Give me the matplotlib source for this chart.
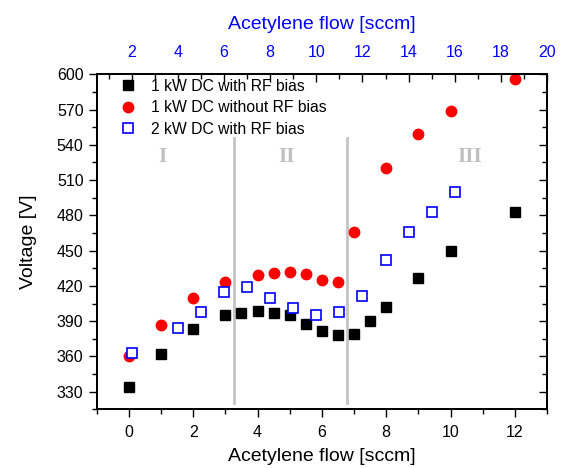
import matplotlib
matplotlib.use("Agg")
import matplotlib.pyplot as plt
from matplotlib.ticker import MultipleLocator

plt.rcParams['font.family'] = ['Liberation Sans', 'DejaVu Sans']

# 1 kW DC with RF bias (bottom axis)
x_black = [0, 1, 2, 3, 3.5, 4, 4.5, 5, 5.5, 6, 6.5, 7, 7.5, 8, 9, 10, 12]
y_black = [334, 362, 383, 395, 397, 399, 397, 395, 388, 382, 378, 379, 390, 402, 427, 450, 483]

# 1 kW DC without RF bias (bottom axis)
x_red = [0, 1, 2, 3, 4, 4.5, 5, 5.5, 6, 6.5, 7, 8, 9, 10, 12]
y_red = [360, 387, 410, 423, 429, 431, 432, 430, 425, 423, 466, 520, 549, 569, 596]

# 2 kW DC with RF bias (top axis)
x_blue = [2, 4, 5, 6, 7, 8, 9, 10, 11, 12, 13, 14, 15, 16]
y_blue = [363, 384, 398, 415, 419, 410, 401, 395, 398, 411, 442, 466, 483, 500]

region_bounds = [3.27, 6.78]
region_labels = ["I", "II", "III"]
region_label_x = [1.05, 4.9, 10.6]

fig = plt.figure(figsize=(5.63, 4.68), dpi=100)
ax = fig.add_axes([0.1718, 0.1254, 0.7998, 0.7158])

for xb in region_bounds:
    ax.plot([xb, xb], [320, 546], color='#c4c4c4', lw=2, zorder=1)
for lab, lx in zip(region_labels, region_label_x):
    ax.text(lx, 530, lab, family=['Liberation Serif', 'DejaVu Serif'], fontweight='bold',
            fontsize=15.5, color='#c0c0c0', ha='center', va='center')

hb, = ax.plot(x_black, y_black, 's', color='black', ms=7.2, ls='none', zorder=3,
              label='1 kW DC with RF bias')
hr, = ax.plot(x_red, y_red, 'o', color='red', mec='red', ms=7.5, ls='none', zorder=3,
              label='1 kW DC without RF bias')

ax2 = ax.twiny()
hbl, = ax2.plot(x_blue, y_blue, 's', mfc='white', mec='blue', mew=1.2, ms=7.2, ls='none',
                zorder=3, label='2 kW DC with RF bias')

ax.set_xlim(-1, 13)
ax.set_ylim(315, 600)
ax2.set_xlim(0.48, 20)

ax.xaxis.set_major_locator(MultipleLocator(2))
ax.xaxis.set_minor_locator(MultipleLocator(1))
ax.yaxis.set_major_locator(MultipleLocator(30))
ax.yaxis.set_minor_locator(MultipleLocator(15))
ax2.xaxis.set_major_locator(MultipleLocator(2))
ax2.xaxis.set_minor_locator(MultipleLocator(1))

ax.tick_params(axis='both', which='major', direction='out', length=6, width=1, labelsize=11.5,
               right=True)
ax.tick_params(axis='x', which='major', pad=5)
ax.tick_params(axis='both', which='minor', direction='out', length=3.5, width=1, right=True)
ax.tick_params(axis='y', which='both', labelright=False)
for t in ax.yaxis.get_major_ticks() + ax.yaxis.get_minor_ticks():
    t.tick2line.set_marker(matplotlib.lines.TICKLEFT)
ax2.tick_params(axis='x', which='major', direction='in', length=6, width=1, labelsize=11.5,
                labelcolor='blue', pad=10)
ax2.tick_params(axis='x', which='minor', direction='in', length=3.5, width=1)

for a in (ax, ax2):
    for s in a.spines.values():
        s.set_linewidth(1.3)

ax.set_xlabel('Acetylene flow [sccm]', fontsize=14, labelpad=6)
ax.set_ylabel('Voltage [V]', fontsize=14, labelpad=14)
ax2.set_xlabel('Acetylene flow [sccm]', fontsize=14, color='blue', labelpad=12)

leg = ax.legend(handles=[hb, hr, hbl], loc='upper left', bbox_to_anchor=(0.025, 1.02),
                frameon=False, fontsize=11.3, handlelength=1.2, handletextpad=0.85,
                labelspacing=0.42, borderaxespad=0.3)

fig.savefig('out.png', dpi=100)
